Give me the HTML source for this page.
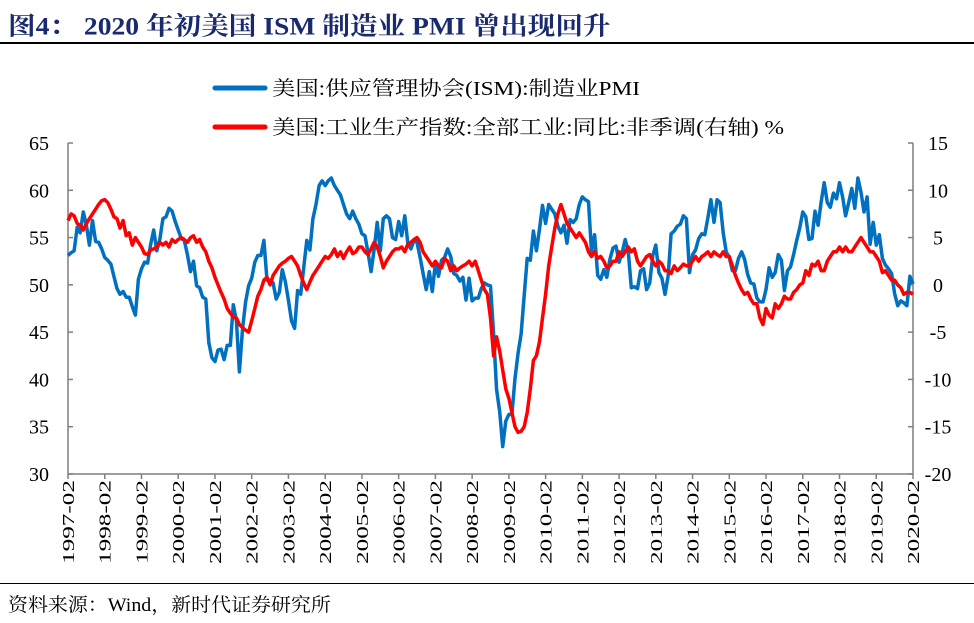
<!DOCTYPE html>
<html><head><meta charset="utf-8">
<style>
body{margin:0;background:#fff;width:974px;height:623px;overflow:hidden;font-family:"Liberation Serif","Noto Serif CJK SC",serif;}
#title{position:absolute;left:8px;top:5px;font-size:24px;font-weight:bold;color:#1a2a6e;white-space:nowrap;transform-origin:0 0;transform:scale(1.15,1.05);}
#title-rule{position:absolute;left:0;top:42px;width:974px;height:2px;background:#000;}
#foot-rule{position:absolute;left:0;top:583px;width:974px;height:1px;background:#000;}
#source{position:absolute;left:8px;top:590px;font-size:19px;color:#000;white-space:nowrap;transform-origin:0 0;transform:scale(1.05,1);}
svg{position:absolute;left:0;top:0;}
</style></head><body>
<div id="title">图4： 2020 年初美国 ISM 制造业 PMI 曾出现回升</div>
<div id="title-rule"></div>
<svg id="chart" width="974" height="623"></svg>
<div id="foot-rule"></div>
<div id="source">资料来源：Wind，新时代证券研究所</div>
<script>
const pmi=[
53.1,53.4,53.6,56.1,55.5,57.7,56.3,54.2,56.8,54.6,54.5,53.8,
52.9,52.6,52.2,50.9,49.6,49.0,49.3,48.7,48.7,47.7,46.8,50.6,
51.7,52.4,52.3,54.3,55.8,53.6,54.8,57.0,57.2,58.1,57.8,56.7,
55.8,54.9,54.7,53.2,51.4,52.5,49.9,49.7,48.7,48.5,43.9,42.3,
41.9,43.1,43.2,42.1,43.6,43.6,47.9,46.2,40.8,45.3,48.2,49.9,
50.7,52.4,53.1,53.1,54.7,50.5,50.5,50.2,48.5,49.2,51.6,50.3,
48.4,46.2,45.4,49.4,49.0,51.8,54.7,53.7,57.0,58.5,60.5,61.0,
60.5,61.0,61.3,60.5,60.0,59.5,58.5,57.5,57.0,57.8,57.0,56.4,
55.4,55.2,53.4,51.4,53.8,56.6,53.6,57.0,57.3,57.0,55.0,54.8,
56.7,55.2,57.3,54.4,53.8,54.7,54.5,52.9,51.2,49.5,51.4,49.3,
52.3,50.9,52.6,52.9,53.8,53.0,51.2,51.0,50.4,50.8,48.4,50.7,
48.3,48.6,48.6,49.6,50.2,50.0,49.9,44.8,38.9,36.6,32.9,35.6,
36.3,36.3,40.1,42.8,44.8,48.9,52.8,52.6,55.7,53.6,55.9,58.4,
56.5,58.5,58.0,57.5,56.2,55.5,56.3,54.4,56.9,56.6,57.0,58.5,
59.3,59.0,58.8,53.5,55.3,51.0,50.6,51.6,50.8,52.7,53.9,54.1,
52.4,53.4,54.8,53.5,49.7,49.8,49.6,51.5,51.7,49.5,50.2,53.1,
54.2,51.3,50.7,49.0,50.9,55.4,55.7,56.2,56.4,57.3,57.0,51.3,
53.2,53.7,54.9,55.4,55.3,57.1,59.0,56.6,59.0,58.7,55.5,53.5,
52.9,51.5,51.5,52.8,53.5,52.7,51.1,50.2,50.1,48.6,48.2,48.2,
49.5,51.8,50.8,51.3,53.2,52.6,49.4,51.5,51.9,53.2,54.7,56.0,
57.7,57.2,54.8,54.9,57.8,56.3,58.8,60.8,58.7,58.2,59.7,59.1,
60.8,59.3,57.3,58.7,60.2,58.1,61.3,59.8,57.7,59.3,54.3,56.6,
54.2,55.3,52.8,52.1,51.7,51.2,49.1,47.8,48.3,48.1,47.8,50.9,
50.1];
const ipYoy=[
6.8,7.5,7.3,6.5,6.3,5.8,6.5,7.0,7.5,8.0,8.5,8.9,
9.0,8.7,8.0,7.2,7.0,6.0,6.8,5.2,5.5,4.2,5.0,4.5,
4.0,3.3,3.2,3.7,3.8,4.0,4.5,4.2,4.5,4.0,4.8,4.5,
4.8,5.0,4.8,4.5,5.0,5.2,4.5,4.8,4.0,3.5,2.5,1.8,
0.8,0.0,-0.8,-1.5,-2.5,-3.0,-3.4,-3.5,-4.2,-4.5,-4.8,-5.0,
-3.8,-2.5,-1.2,-0.5,0.5,0.8,0.0,1.0,1.5,2.0,2.3,2.5,
2.8,3.0,2.5,2.0,1.0,0.2,-0.5,0.3,1.0,1.5,2.0,2.5,
3.0,2.8,3.2,3.8,3.0,3.5,2.8,3.5,4.0,3.3,3.5,4.0,
4.0,3.5,3.2,3.8,4.5,4.0,3.0,1.8,2.5,3.0,3.5,3.8,
3.8,4.0,3.5,4.3,4.5,4.8,5.0,4.5,3.5,3.0,2.5,2.0,
2.5,2.0,1.8,2.8,2.5,1.5,2.0,1.5,1.8,2.0,2.2,2.5,
2.0,2.5,1.5,0.5,-0.5,-1.0,-3.5,-7.5,-5.5,-7.0,-9.0,-11.0,
-12.0,-13.5,-15.0,-15.6,-15.5,-15.0,-13.5,-11.0,-8.0,-7.5,-6.0,-3.5,
-1.0,2.0,4.0,6.0,7.5,8.5,7.5,6.5,6.0,5.5,5.0,5.5,
5.0,4.5,3.5,3.0,3.5,2.8,3.0,2.5,1.8,2.0,2.5,2.5,
3.5,3.0,3.5,4.0,3.5,3.8,2.5,2.0,2.5,3.0,3.2,2.5,
2.0,2.5,2.2,1.5,1.5,1.2,2.0,1.5,1.8,2.2,2.0,2.0,
2.5,3.0,2.5,3.0,3.2,3.5,3.0,3.5,3.2,3.0,3.5,3.0,
3.0,2.0,1.0,0.2,-0.5,-1.0,-0.8,-1.5,-2.0,-2.0,-3.5,-4.2,
-2.5,-3.2,-3.5,-2.0,-2.5,-2.0,-1.2,-1.5,-1.5,-0.8,-0.5,0.0,
0.2,1.5,1.0,2.2,2.0,2.5,1.5,1.5,2.5,3.0,3.5,3.5,
4.0,3.5,4.0,3.5,3.5,4.0,4.5,5.0,4.5,4.0,3.5,3.5,
3.0,2.5,1.3,1.5,1.0,0.5,0.5,0.0,-0.3,-1.0,-0.8,-0.8,
-1.0];
const xLabels=["1997-02","1998-02","1999-02","2000-02","2001-02","2002-02","2003-02","2004-02","2005-02","2006-02","2007-02","2008-02","2009-02","2010-02","2011-02","2012-02","2013-02","2014-02","2015-02","2016-02","2017-02","2018-02","2019-02","2020-02"];
const leftTicks=[30,35,40,45,50,55,60,65];
const rightTicks=[-20,-15,-10,-5,0,5,10,15];

const NS="http://www.w3.org/2000/svg";
const svg=document.getElementById('chart');
const X0=68,X1=913,Y0=143,Y1=474;
const n=pmi.length;
function x(i){return X0+(X1-X0)*i/(n-1);}
function yL(v){return Y1-(v-30)/35*(Y1-Y0);}
function yR(v){return Y1-(v+20)/35*(Y1-Y0);}
function mk(tag,attrs){const e=document.createElementNS(NS,tag);for(const k in attrs)e.setAttribute(k,attrs[k]);svg.appendChild(e);return e;}
const AX="#7f7f7f";
let a=mk('line',{x1:X0,y1:Y0,x2:X0,y2:Y1,stroke:AX,'stroke-width':1.5});


a=mk('line',{x1:X1,y1:Y0,x2:X1,y2:Y1,stroke:AX,'stroke-width':1.5});


a=mk('line',{x1:X0,y1:Y1,x2:X1,y2:Y1,stroke:AX,'stroke-width':1.5});


leftTicks.forEach(v=>{
  const y=yL(v);
  mk('line',{x1:X0,y1:y,x2:X0+5,y2:y,stroke:AX,'stroke-width':1.5});
  const t=mk('text',{x:49,y:y+7,'text-anchor':'end','font-size':20,fill:'#000','font-family':'Liberation Serif, serif'});
  t.textContent=v;
  
  
});
rightTicks.forEach(v=>{
  const y=yR(v);
  mk('line',{x1:X1-5,y1:y,x2:X1,y2:y,stroke:AX,'stroke-width':1.5});
  const t=mk('text',{x:938,y:y+7,'text-anchor':'middle','font-size':20,fill:'#000','font-family':'Liberation Serif, serif'});
  t.textContent=v;
  
  
});
xLabels.forEach((s,k)=>{
  const xx=x(k*12);
  mk('line',{x1:xx,y1:Y1,x2:xx,y2:Y1+5,stroke:AX,'stroke-width':1.5});
  const t=mk('text',{x:0,y:0,'text-anchor':'end','font-size':17,fill:'#000','font-family':'Liberation Serif, serif',textLength:84,lengthAdjust:'spacingAndGlyphs',transform:`translate(${xx+6},${Y1+6}) rotate(-90)`});
  t.textContent=s;
  
  
});
function path(arr,fy){return arr.map((v,i)=>(i?'L':'M')+x(i).toFixed(1)+','+fy(v).toFixed(1)).join('');}
let p=mk('path',{d:path(pmi,yL),fill:'none',stroke:'#0070C0','stroke-width':3.5,'stroke-linejoin':'round'});


p=mk('path',{d:path(ipYoy,yR),fill:'none',stroke:'#FF0000','stroke-width':3.5,'stroke-linejoin':'round'});


let g=mk('line',{x1:215,y1:88,x2:265,y2:88,stroke:'#0070C0','stroke-width':5,'stroke-linecap':'round'});


let lt=mk('text',{x:272,y:95,'font-size':20,fill:'#000','font-family':'Liberation Serif, Noto Serif CJK SC, serif',textLength:368,lengthAdjust:'spacingAndGlyphs'});
lt.textContent='美国:供应管理协会(ISM):制造业PMI';


g=mk('line',{x1:215,y1:127,x2:265,y2:127,stroke:'#FF0000','stroke-width':5,'stroke-linecap':'round'});


lt=mk('text',{x:272,y:134,'font-size':20,fill:'#000','font-family':'Liberation Serif, Noto Serif CJK SC, serif',textLength:512,lengthAdjust:'spacingAndGlyphs'});
lt.textContent='美国:工业生产指数:全部工业:同比:非季调(右轴) %';


</script>
</body></html>
